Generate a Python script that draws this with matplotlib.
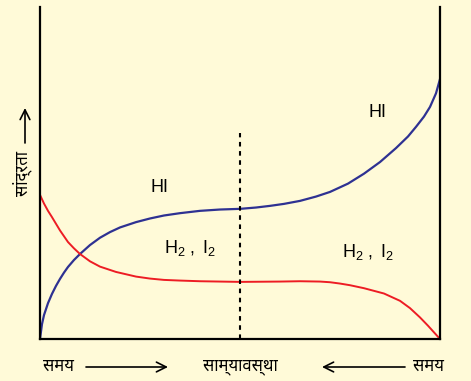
import matplotlib
matplotlib.use("Agg")
import matplotlib.pyplot as plt

# time (arbitrary units, 0..10) and concentration readings
t_hi = [0, 0.05, 0.1, 0.2, 0.3, 0.4, 0.5, 0.6, 0.7, 0.85, 1.0, 1.25, 1.5, 1.75,
        2.0, 2.4, 2.75, 3.1, 3.5, 4.0, 4.5, 5.0, 5.4, 5.75, 6.1, 6.5, 6.9,
        7.25, 7.7, 8.1, 8.5, 8.9, 9.2, 9.4, 9.6, 9.75, 9.9, 10]
c_hi = [0, 0.45, 0.72, 1.08, 1.36, 1.60, 1.81, 2.00, 2.17, 2.38, 2.56, 2.83,
        3.05, 3.22, 3.36, 3.52, 3.63, 3.72, 3.79, 3.86, 3.90, 3.92, 3.96,
        4.01, 4.07, 4.16, 4.29, 4.43, 4.68, 4.98, 5.33, 5.75, 6.10, 6.39,
        6.70, 6.99, 7.40, 7.83]

t_h2 = [0, 0.1, 0.2, 0.3, 0.5, 0.7, 0.85, 1.0, 1.25, 1.5, 1.9, 2.4, 2.75,
        3.1, 3.5, 4.0, 5.0, 6.0, 6.5, 7.0, 7.25, 7.5, 7.75, 8.1, 8.6, 9.0,
        9.25, 9.5, 9.7, 9.85, 10]
c_h2 = [4.34, 4.08, 3.86, 3.67, 3.27, 2.92, 2.73, 2.56, 2.34, 2.18, 2.02,
        1.88, 1.82, 1.78, 1.76, 1.74, 1.72, 1.73, 1.74, 1.73, 1.71, 1.67,
        1.62, 1.53, 1.37, 1.15, 0.93, 0.65, 0.40, 0.20, 0]

t_eq = 5.0
c_eq_top = 6.2

bg = '#fffad8'
dev = ['Noto Sans Devanagari', 'Hind', 'Mukta', 'DejaVu Sans']

plt.rcParams['mathtext.fontset'] = 'custom'
plt.rcParams['mathtext.rm'] = 'Liberation Sans'
plt.rcParams['mathtext.it'] = 'Liberation Sans'

fig = plt.figure(figsize=(4.71, 3.81), dpi=100, facecolor=bg)
ax = fig.add_axes([40/471, 42/381, 400/471, 332/381])
ax.set_facecolor(bg)

ax.plot(t_hi, c_hi, color='#2e3192', lw=1.6, solid_joinstyle='round')
ax.plot(t_h2, c_h2, color='#ed1c24', lw=1.4, solid_joinstyle='round')
ax.plot([t_eq, t_eq], [0, c_eq_top], color='black', lw=1.5, ls=(0, (2.2, 2.2)))

ax.set_xlim(0, 10)
ax.set_ylim(0, 10)
ax.set_xticks([])
ax.set_yticks([])
ax.spines['top'].set_visible(False)
for s in ['left', 'right', 'bottom']:
    ax.spines[s].set_linewidth(1.6)

lab = dict(fontsize=13, family='Liberation Sans', ha='center', va='center')
ax.text(3.0, 4.55, 'HI', **lab)
ax.text(8.43, 6.81, 'HI', **lab)
ax.text(3.75, 2.74, 'H$_2$ $,$ I$_2$', **lab)
ax.text(8.2, 2.62, 'H$_2$ $,$ I$_2$', **lab)

# axis captions
cap = dict(family=dev, fontsize=12, ha='center', va='center')
fig.text(58/471, 14/381, 'समय', **cap)
fig.text(240/471, 14/381, 'साम्यावस्था', **cap)
fig.text(428/471, 14/381, 'समय', **cap)
fig.text(22/471, 207/381, 'सांद्रता', rotation=90, **cap)

arr = dict(arrowstyle='->,head_length=0.7,head_width=0.35', lw=1.2, color='black',
           shrinkA=0, shrinkB=0)
ax.annotate('', xy=(168, 14), xytext=(86, 14), xycoords='figure pixels', arrowprops=arr)
ax.annotate('', xy=(322, 14), xytext=(405, 14), xycoords='figure pixels', arrowprops=arr)
ax.annotate('', xy=(25, 273), xytext=(25, 238), xycoords='figure pixels', arrowprops=arr)

fig.savefig('out.png', dpi=100, facecolor=bg)
